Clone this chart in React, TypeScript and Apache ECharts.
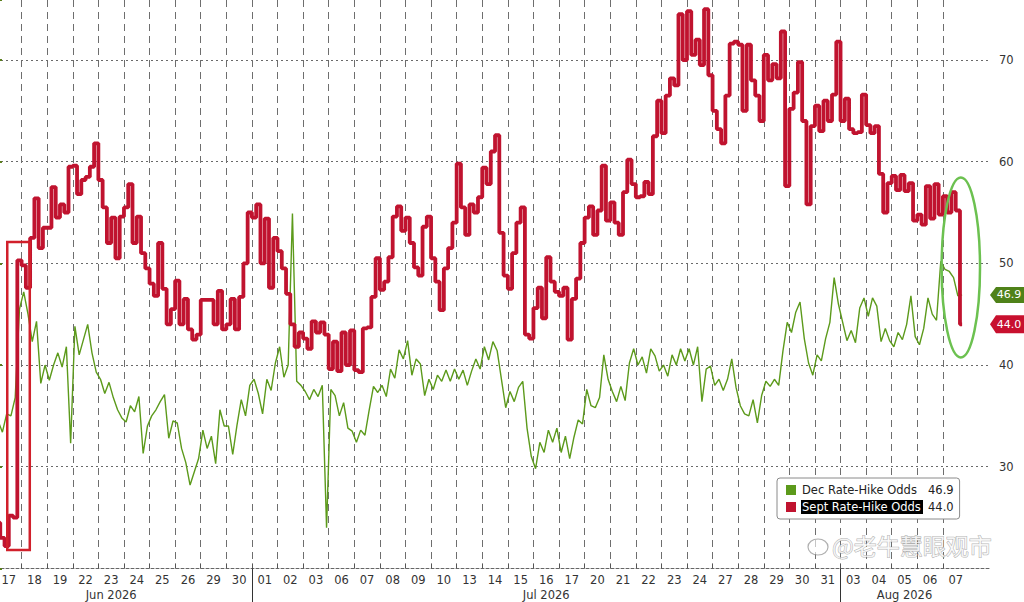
import React, { useEffect, useRef } from "react";
import * as echarts from "echarts";

// ---- data ----
const dayLabels = [
  "17", "18", "19", "22", "23", "24", "25", "26", "29", "30",
  "01", "02", "03", "06", "07", "08", "09", "10", "13", "14", "15", "16", "17",
  "20", "21", "22", "23", "24", "27", "28", "29", "30", "31",
  "03", "04", "05", "06", "07",
];
const monthLabels = ["Jun 2026", "Jul 2026", "Aug 2026"];
const monthCenters = [4.5, 21.5, 35.5];
const monthStarts = [10, 33];

const SAMPLES_PER_DAY = 6;

// Sept Rate-Hike Odds (six intraday readings per trading day)
const septOdds = [
  24.5, 23.0, 22.2, 25.2, 25.0, 50.3,
  49.8, 47.6, 52.5, 56.4, 51.5, 53.5,
  53.5, 57.5, 54.5, 55.8, 55.0, 59.5,
  59.6, 56.8, 58.2, 58.5, 59.5, 61.8,
  58.2, 55.5, 52.0, 54.5, 50.5, 54.6,
  55.5, 57.8, 52.0, 54.6, 51.0, 49.5,
  48.0, 46.8, 52.0, 47.5, 44.0, 45.5,
  48.3, 44.0, 46.5, 43.5, 42.5, 43.0,
  46.4, 46.4, 46.4, 44.0, 47.3, 43.5,
  44.0, 46.5, 43.5, 46.7, 50.0, 55.0,
  54.5, 55.8, 50.0, 54.4, 47.6, 52.5,
  51.2, 49.5, 47.0, 44.0, 41.8, 43.2,
  42.6, 41.6, 44.3, 43.2, 44.2, 43.0,
  39.6, 42.3, 39.4, 43.2, 40.0, 43.4,
  39.5, 39.3, 43.6, 43.7, 46.7, 50.5,
  47.4, 48.2, 50.6, 54.6, 55.6, 53.2,
  54.5, 52.0, 49.6, 48.8, 53.6, 54.6,
  50.5, 48.2, 45.4, 49.5, 51.5, 54.0,
  59.8, 55.5, 52.8, 55.8, 55.0, 56.5,
  59.4, 57.8, 61.0, 62.6, 53.0, 48.8,
  47.5, 51.0, 54.0, 55.5, 43.0, 42.6,
  45.6, 47.6, 44.6, 50.6, 48.2, 47.2,
  46.8, 47.6, 42.5, 46.5, 48.5, 52.0,
  54.5, 55.6, 52.8, 55.2, 59.6, 54.2,
  56.0, 54.0, 52.8, 57.0, 60.2, 57.8,
  56.5, 56.6, 58.0, 56.8, 62.5, 66.0,
  62.8, 66.5, 68.2, 67.5, 74.5, 70.0,
  74.8, 70.5, 72.0, 69.5, 75.0, 68.5,
  65.0, 63.2, 61.8, 66.5, 71.6, 71.8,
  71.5, 65.0, 71.5, 68.0, 66.5, 64.0,
  70.5, 68.0, 69.6, 68.2, 72.8, 57.6,
  65.2, 66.8, 69.8, 64.0, 55.8, 63.5,
  65.5, 63.0, 66.0, 64.0, 66.6, 71.8,
  64.0, 66.2, 63.2, 62.8, 62.9, 66.6,
  63.6, 62.8, 63.5, 58.8, 55.0, 57.9,
  58.6, 57.2, 58.7, 57.1, 57.9, 54.2,
  54.8, 53.8, 57.6, 54.4, 57.8, 54.8,
  56.6, 55.0, 57.0, 55.2, 44.0,
];

// Dec Rate-Hike Odds
const decOdds = [
  34.5, 33.4, 35.2, 35.0, 36.8, 45.5,
  47.2, 45.0, 42.3, 44.3, 38.2, 40.0,
  38.5, 40.0, 41.2, 39.8, 41.8, 32.3,
  43.8, 41.0, 42.5, 44.0, 41.2, 39.3,
  38.6, 37.2, 38.3, 36.8, 35.6, 34.8,
  34.4, 36.0, 35.4, 36.9, 31.3, 34.0,
  35.0, 35.6, 36.4, 37.1, 32.8, 34.5,
  34.3, 31.8, 30.4, 28.2, 29.5, 30.8,
  33.6, 31.8, 33.0, 30.3, 35.6, 34.0,
  34.0, 31.2, 34.1, 36.6, 35.0, 38.0,
  38.6, 37.2, 35.2, 38.6, 37.5, 40.2,
  41.8, 38.8, 40.0, 54.9, 38.4, 38.0,
  37.4, 36.6, 37.6, 36.9, 38.0, 24.0,
  37.6, 37.0, 35.0, 36.3, 33.8, 33.5,
  32.4, 33.6, 33.1, 35.6, 37.9, 37.3,
  38.0, 36.9, 39.6, 38.7, 41.5, 40.6,
  42.4, 39.0, 40.6, 40.1, 37.0, 38.6,
  37.6, 39.0, 38.4, 39.5, 38.4, 39.6,
  38.6, 39.5, 38.0, 39.4, 40.6, 39.6,
  41.8, 40.5, 42.3, 41.4, 38.6, 35.8,
  37.4, 36.4, 37.8, 38.4, 33.8, 31.0,
  29.8, 32.4, 31.4, 33.6, 32.4, 33.8,
  31.4, 33.0, 30.8, 32.9, 34.6, 34.2,
  37.6, 36.0, 35.8, 36.8, 41.0, 38.6,
  37.4, 36.4, 37.9, 36.5, 40.2, 41.6,
  40.0, 40.8, 39.2, 41.6, 40.9, 39.4,
  40.0, 38.9, 41.0, 40.0, 41.6, 40.4,
  41.6, 40.0, 41.8, 36.4, 39.6, 39.9,
  38.0, 38.6, 37.5, 38.6, 40.6, 37.8,
  36.0, 35.2, 35.0, 36.6, 34.3, 37.0,
  38.4, 37.9, 38.6, 38.0, 41.4, 44.2,
  43.2, 45.2, 46.2, 42.6, 40.2, 39.0,
  41.0, 40.4, 42.6, 44.2, 48.6, 46.0,
  44.2, 42.4, 43.4, 42.2, 45.6, 46.6,
  44.8, 46.6, 45.8, 42.3, 43.6, 42.4,
  41.8, 43.2, 42.5, 44.0, 46.8, 42.8,
  42.0, 43.6, 46.6, 45.0, 44.4, 50.2,
  49.4, 49.2, 48.6, 46.8, 46.9,
];

const septLast = 44.0;
const decLast = 46.9;
const yTickValues = [30, 40, 50, 60, 70];

const SEPT_NAME = "Sept Rate-Hike Odds";
const DEC_NAME = "Dec Rate-Hike Odds";

const RED = "#c0132f";
const GREEN = "#5c9a1b";
const FONT = "DejaVu Sans";

export default function App() {
  const ref = useRef<HTMLDivElement>(null);

  useEffect(() => {
    if (!ref.current) return;
    const chart = echarts.init(ref.current, null, { renderer: "svg" });
    const X_MIN = 0;
    const X_MAX = 38.84;
    const Y_MIN = 20;
    const Y_MAX = 75.9;
    const toXY = (arr: number[]) =>
      arr.map((v, i) => [(i + 0.5) / SAMPLES_PER_DAY, v]);

    const tickBounds = dayLabels.slice(1).map((_, i) => i + 1);
    const labelCenters = dayLabels.map((_, i) => i + 0.5);

    const tagPath = "path://M0,8L6,0L34,0L34,16L6,16Z";

    const option: any = {
      animation: false,
      backgroundColor: "#ffffff",
      textStyle: { fontFamily: FONT },
      grid: { left: 0, right: 34, top: 0, bottom: 33.6, containLabel: false },
      legend: {
        show: true,
        orient: "vertical",
        left: 781,
        top: 478,
        icon: "rect",
        itemWidth: 10,
        itemHeight: 10,
        itemGap: 4,
        padding: [6, 6, 5, 9],
        backgroundColor: "#ffffff",
        borderColor: "#8a8a8a",
        borderWidth: 1,
        borderRadius: 3,
        selectedMode: false,
        data: [DEC_NAME, SEPT_NAME],
        formatter: (name: string) =>
          name === DEC_NAME
            ? `{n|${name}}{v|${decLast.toFixed(1)}}`
            : `{h|${name}}{v|${septLast.toFixed(1)}}`,
        textStyle: {
          fontFamily: FONT,
          fontSize: 11.5,
          color: "#222",
          rich: {
            n: { fontFamily: FONT, fontSize: 11.5, color: "#222", width: 121, padding: [1, 0, 1, 1] },
            h: {
              fontFamily: FONT,
              fontSize: 11.5,
              color: "#ffffff",
              backgroundColor: "#000000",
              width: 121,
              padding: [1, 0, 1, 1],
            },
            v: { fontFamily: FONT, fontSize: 11.5, color: "#222", width: 30, padding: [0, 0, 0, 5] },
          },
        },
      },
      xAxis: [
        {
          type: "value",
          min: X_MIN,
          max: X_MAX,
          position: "bottom",
          axisLine: { show: true, onZero: false, lineStyle: { color: "#666", type: [3, 2], width: 1 } },
          axisTick: { show: true, inside: true, length: 5, customValues: tickBounds, lineStyle: { color: "#555" } },
          axisLabel: {
            show: true,
            customValues: labelCenters,
            formatter: (v: number) => dayLabels[Math.round(v - 0.5)] ?? "",
            color: "#333",
            fontFamily: FONT,
            fontSize: 11.5,
            margin: 6,
          },
          splitLine: { show: true, lineStyle: { color: "#6e6e6e", type: [7, 5], width: 1 } },
        },
        {
          type: "value",
          min: X_MIN,
          max: X_MAX,
          position: "bottom",
          offset: 0,
          axisLine: { show: false, onZero: false },
          axisTick: { show: true, inside: false, length: 34, customValues: monthStarts, lineStyle: { color: "#333", width: 1 } },
          axisLabel: {
            show: true,
            customValues: monthCenters,
            formatter: (v: number) => monthLabels[monthCenters.indexOf(v)] ?? "",
            color: "#333",
            fontFamily: FONT,
            fontSize: 11.5,
            margin: 21,
          },
          splitLine: { show: false },
        },
      ],
      yAxis: {
        type: "value",
        position: "right",
        min: Y_MIN,
        max: Y_MAX,
        interval: 10,
        axisLine: { show: true, lineStyle: { color: "#a6bb6e", width: 1.5 } },
        axisTick: { show: true, length: 6, lineStyle: { color: "#5b7f1d", width: 2 } },
        minorTick: { show: true, splitNumber: 2, length: 4, lineStyle: { color: "#5b7f1d", width: 1 } },
        axisLabel: {
          show: true,
          showMinLabel: false,
          showMaxLabel: false,
          color: "#333",
          fontFamily: FONT,
          fontSize: 11.5,
          margin: 9,
          formatter: (v: number) => (yTickValues.indexOf(v) >= 0 ? String(v) : ""),
        },
        splitLine: {
          show: true,
          showMinLine: false,
          showMaxLine: false,
          lineStyle: { color: "#6a6a6a", type: [2, 3], width: 1 },
        },
      },
      series: [
        {
          name: DEC_NAME,
          type: "line",
          data: toXY(decOdds),
          showSymbol: false,
          symbol: "none",
          itemStyle: { color: GREEN },
          lineStyle: { color: GREEN, width: 1.4 },
          z: 3,
          markPoint: {
            silent: true,
            symbol: tagPath,
            symbolSize: [34, 16],
            symbolOffset: [17, 0],
            symbolKeepAspect: false,
            itemStyle: { color: "#4f8219" },
            label: {
              show: true,
              position: "inside",
              offset: [2, 0],
              color: "#ffffff",
              fontFamily: FONT,
              fontSize: 11,
              formatter: decLast.toFixed(1),
            },
            data: [{ coord: [X_MAX, decLast] }],
          },
        },
        {
          name: SEPT_NAME,
          type: "line",
          data: toXY(septOdds),
          showSymbol: false,
          symbol: "none",
          step: "middle",
          itemStyle: { color: RED },
          lineStyle: { color: RED, width: 3.8 },
          z: 4,
          markPoint: {
            silent: true,
            symbol: tagPath,
            symbolSize: [34, 18],
            symbolOffset: [17, 0],
            symbolKeepAspect: false,
            itemStyle: { color: "#c8102e" },
            label: {
              show: true,
              position: "inside",
              offset: [2, 0],
              color: "#ffffff",
              fontFamily: FONT,
              fontSize: 11,
              formatter: septLast.toFixed(1),
            },
            data: [{ coord: [X_MAX, septLast] }],
          },
        },
      ],
    };

    chart.setOption(option);

    // annotations placed in data coordinates
    const finder = { xAxisIndex: 0, yAxisIndex: 0 };
    const r1 = chart.convertToPixel(finder, [0.44, 52.1]) as number[];
    const r2 = chart.convertToPixel(finder, [1.32, 21.8]) as number[];
    const ec = chart.convertToPixel(finder, [37.7, 49.6]) as number[];
    const ee = chart.convertToPixel(finder, [38.45, 58.45]) as number[];

    chart.setOption({
      graphic: [
        {
          type: "rect",
          silent: true,
          z: 100,
          shape: { x: r1[0], y: r1[1], width: r2[0] - r1[0], height: r2[1] - r1[1] },
          style: { fill: "none", stroke: "#d1202b", lineWidth: 2.5 },
        },
        {
          type: "ellipse",
          silent: true,
          z: 100,
          shape: { cx: ec[0], cy: ec[1], rx: ee[0] - ec[0], ry: ec[1] - ee[1] },
          style: { fill: "none", stroke: "#6cc150", lineWidth: 2.5 },
        },
        {
          type: "text",
          silent: true,
          z: 101,
          x: 836,
          y: 533,
          style: {
            text: "@老牛慧眼观市",
            fontFamily: "Noto Sans CJK SC",
            fontSize: 23,
            fill: "rgba(255,255,255,0.75)",
            stroke: "rgba(110,110,110,0.55)",
            lineWidth: 1,
          },
        },
        {
          type: "ellipse",
          silent: true,
          z: 101,
          shape: { cx: 822, cy: 547, rx: 10, ry: 8 },
          style: { fill: "rgba(255,255,255,0.6)", stroke: "rgba(110,110,110,0.55)", lineWidth: 1.2 },
        },
      ],
    });

    return () => chart.dispose();
  }, []);

  return (
    <div
      ref={ref}
      style={{ position: "absolute", left: -4, top: 0, width: 1028, height: 602 }}
    />
  );
}
